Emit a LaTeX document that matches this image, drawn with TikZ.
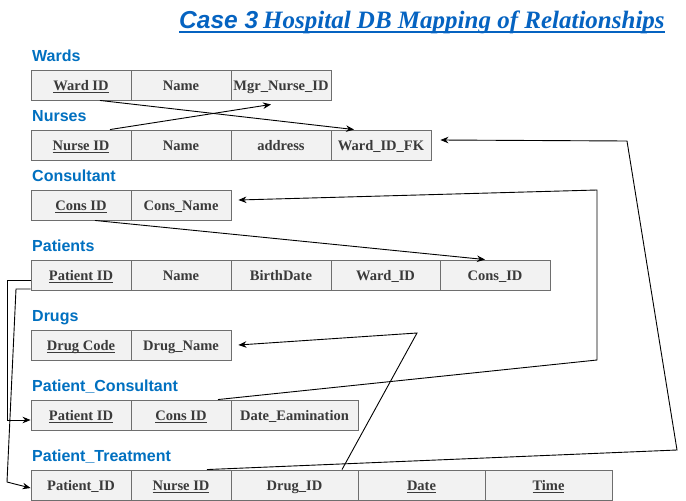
\documentclass[tikz,border=0pt]{standalone}
\usepackage{fontspec}
\setmainfont{Liberation Serif}
\newfontfamily\sansf{Liberation Sans}
\usetikzlibrary{arrows.meta,calc}
\definecolor{lblblue}{HTML}{0070C0}
\definecolor{ttlblue}{HTML}{0563C1}
\definecolor{cellfill}{HTML}{F2F2F2}
\definecolor{cellline}{HTML}{6E6E6E}
\definecolor{celltext}{HTML}{3A3A3A}
\newcommand\ulk[1]{\setbox0\hbox{#1}\rlap{\rule[-2.6pt]{\wd0}{0.8pt}}\box0}
\begin{document}
\begin{tikzpicture}[x=1pt,y=-1pt,
 cell/.style={draw=cellline, fill=cellfill, line width=0.9pt, minimum height=30pt, inner sep=0pt, text=celltext, font=\bfseries\fontsize{14.5}{17}\selectfont, text height=11pt, text depth=1pt},
 lbl/.style={anchor=base west, inner sep=0pt, text=lblblue, font=\sansf\bfseries\fontsize{16}{19}\selectfont},
 conn/.style={draw=black, line width=0.9pt},
 arr/.style={conn, -{Stealth[length=8pt,width=6.5pt]}}]
\useasboundingbox[fill=white] (0,0) rectangle (686,501);

% title
\node[anchor=base west, inner sep=0pt, text=ttlblue] (title) at (179,28)
 {{\sansf\bfseries\itshape\fontsize{24.5}{28}\selectfont Case 3}\hspace{5pt}{\bfseries\itshape\fontsize{25}{28}\selectfont Hospital DB Mapping of Relationships}};
\draw[ttlblue, line width=1.4pt] ([yshift=-4pt]title.base west) -- ([yshift=-4pt]title.base east);

% labels
\node[lbl] (lw) at (32,61) {Wards};
\node[lbl] (ln) at (32,121) {Nurses};
\node[lbl] (lc) at (32,181) {Consultant};
\node[lbl] (lp) at (32,251) {Patients};
\node[lbl] (ld) at (32,321) {Drugs};
\node[lbl] (lpc) at (32,391) {Patient\_Consultant};
\node[lbl] (lpt) at (32,461) {Patient\_Treatment};

% Wards
\node[cell, minimum width=100pt] (w1) at (81,85) {\ulk{Ward ID}};
\node[cell, minimum width=100pt] (w2) at (181,85) {Name};
\node[cell, minimum width=100pt] (w3) at (281,85) {Mgr\_Nurse\_ID};
% Nurses
\node[cell, minimum width=100pt] (n1) at (81,145) {\ulk{Nurse ID}};
\node[cell, minimum width=100pt] (n2) at (181,145) {Name};
\node[cell, minimum width=100pt] (n3) at (281,145) {address};
\node[cell, minimum width=100pt] (n4) at (381,145) {Ward\_ID\_FK};
% Consultant
\node[cell, minimum width=100pt] (c1) at (81,205) {\ulk{Cons ID}};
\node[cell, minimum width=100pt] (c2) at (181,205) {Cons\_Name};
% Patients
\node[cell, minimum width=100pt] (p1) at (81,275) {\ulk{Patient ID}};
\node[cell, minimum width=100pt] (p2) at (181,275) {Name};
\node[cell, minimum width=100pt] (p3) at (281,275) {BirthDate};
\node[cell, minimum width=109pt] (p4) at (385.5,275) {Ward\_ID};
\node[cell, minimum width=110pt] (p5) at (495,275) {Cons\_ID};
% Drugs
\node[cell, minimum width=100pt] (d1) at (81,345) {\ulk{Drug Code}};
\node[cell, minimum width=100pt] (d2) at (181,345) {Drug\_Name};
% Patient_Consultant
\node[cell, minimum width=100pt] (pc1) at (81,415) {\ulk{Patient ID}};
\node[cell, minimum width=100pt] (pc2) at (181,415) {\ulk{Cons ID}};
\node[cell, minimum width=127pt] (pc3) at (294.5,415) {Date\_Eamination};
% Patient_Treatment
\node[cell, minimum width=100pt] (pt1) at (81,485) {Patient\_ID};
\node[cell, minimum width=100pt] (pt2) at (181,485) {\ulk{Nurse ID}};
\node[cell, minimum width=127pt] (pt3) at (294.5,485) {Drug\_ID};
\node[cell, minimum width=127pt] (pt4) at (421.5,485) {\ulk{Date}};
\node[cell, minimum width=127pt] (pt5) at (548.5,485) {\ulk{Time}};

% bend points
\coordinate (k4a) at (597,360);
\coordinate (k4b) at (597,190);
\coordinate (k5a) at (677,450);
\coordinate (k5b) at (627,141);
\coordinate (k6a) at (417,333);
\coordinate (k7a) at (7,280);
\coordinate (k7b) at (7,420);
\coordinate (k8a) at (16,289);
\coordinate (k8b) at (7,482);

% connectors
\draw[arr] ([xshift=19pt]w1.south) -- ([xshift=-27pt]n4.north);
\draw[arr] ([xshift=29pt]n1.north) -- ([xshift=-10pt,yshift=-4pt]w3.south);
\draw[arr] ([xshift=14pt]c1.south) -- ([xshift=-10pt]p5.north);
\draw[arr] ([xshift=37pt]pc2.north) -- (k4a) -- (k4b) -- ([xshift=7pt,yshift=5pt]c2.east);
\draw[arr] ([xshift=26pt]pt2.north) -- (k5a) -- (k5b) -- ([xshift=9pt,yshift=5pt]n4.east);
\draw[arr] ([xshift=47.5pt]pt3.north) -- (k6a) -- ([xshift=7pt]d2.east);
\draw[arr] ([yshift=-5pt]p1.west) -- (k7a) -- (k7b) -- ([yshift=-5pt]pc1.west);
\draw[arr] ([yshift=-14pt]p1.west) -- (k8a) -- (k8b) -- ([yshift=-3pt]pt1.west);
\end{tikzpicture}
\end{document}
